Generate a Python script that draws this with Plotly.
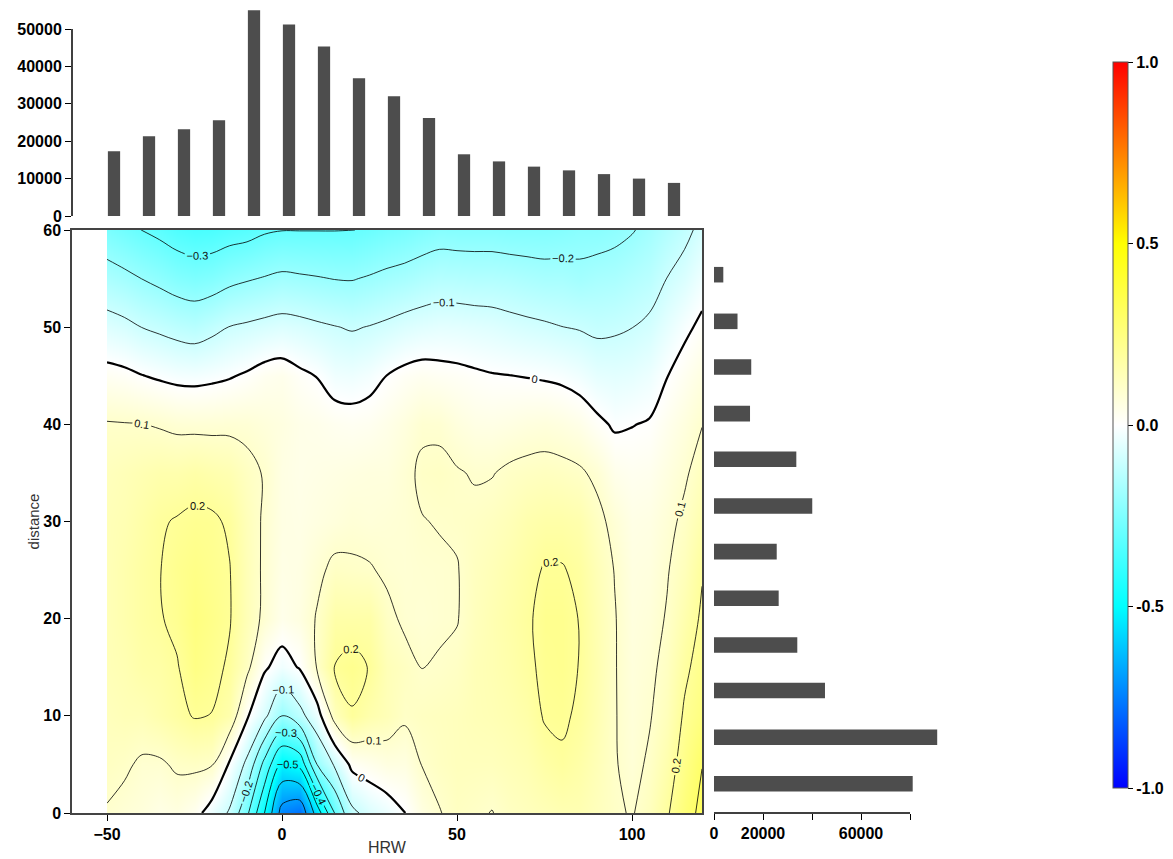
import plotly.graph_objects as go

# ---------------- data ----------------
hrw = [-50, -45, -40, -35, -30, -25, -20, -15, -10, -5, 0, 5, 10, 15, 20, 25, 30, 35,
       40, 45, 50, 55, 60, 65, 70, 75, 80, 85, 90, 95, 100, 105, 110, 115, 120]
distance = [0, 5, 10, 15, 20, 25, 30, 35, 40, 45, 50, 55, 60]

corr = [
    [0.095, 0.08, 0.07, 0.05, 0.06, 0.03, -0.04, -0.11, -0.28, -0.5, -0.74, -0.78, -0.56, -0.3, -0.12, -0.07, -0.04, -0.003, 0.06, 0.097, 0.12, 0.11, 0.098, 0.12, 0.13, 0.14, 0.15, 0.15, 0.13, 0.11, 0.095, 0.13, 0.19, 0.265, 0.32],
    [0.12, 0.11, 0.09, 0.09, 0.11, 0.115, 0.105, -0.01, -0.12, -0.33, -0.52, -0.48, -0.2, -0.09, 0.02, 0.04, 0.06, 0.06, 0.102, 0.12, 0.13, 0.13, 0.13, 0.14, 0.15, 0.175, 0.19, 0.17, 0.14, 0.105, 0.08, 0.11, 0.16, 0.235, 0.298],
    [0.13, 0.14, 0.14, 0.16, 0.18, 0.205, 0.198, 0.16, 0.01, -0.08, -0.2, -0.13, -0.04, 0.13, 0.195, 0.16, 0.14, 0.11, 0.12, 0.125, 0.13, 0.14, 0.145, 0.155, 0.17, 0.205, 0.21, 0.19, 0.15, 0.104, 0.075, 0.095, 0.135, 0.21, 0.25],
    [0.14, 0.15, 0.17, 0.175, 0.195, 0.24, 0.22, 0.19, 0.12, 0.01, -0.03, 0.005, 0.105, 0.205, 0.22, 0.197, 0.14, 0.12, 0.099, 0.105, 0.115, 0.14, 0.15, 0.165, 0.185, 0.215, 0.22, 0.198, 0.155, 0.104, 0.07, 0.085, 0.12, 0.185, 0.23],
    [0.14, 0.16, 0.18, 0.195, 0.215, 0.25, 0.23, 0.205, 0.14, 0.085, 0.04, 0.06, 0.105, 0.17, 0.17, 0.17, 0.115, 0.09, 0.085, 0.092, 0.097, 0.13, 0.15, 0.17, 0.19, 0.22, 0.22, 0.198, 0.15, 0.104, 0.065, 0.075, 0.105, 0.16, 0.21],
    [0.14, 0.16, 0.18, 0.198, 0.22, 0.235, 0.22, 0.203, 0.14, 0.088, 0.05, 0.055, 0.085, 0.115, 0.11, 0.105, 0.09, 0.085, 0.09, 0.092, 0.097, 0.125, 0.14, 0.16, 0.18, 0.205, 0.205, 0.185, 0.14, 0.098, 0.06, 0.065, 0.095, 0.135, 0.195],
    [0.14, 0.15, 0.17, 0.193, 0.205, 0.215, 0.212, 0.19, 0.135, 0.09, 0.055, 0.05, 0.06, 0.07, 0.08, 0.075, 0.08, 0.085, 0.098, 0.103, 0.108, 0.115, 0.125, 0.14, 0.16, 0.17, 0.17, 0.16, 0.12, 0.08, 0.05, 0.055, 0.08, 0.115, 0.16],
    [0.13, 0.14, 0.15, 0.16, 0.16, 0.17, 0.16, 0.15, 0.12, 0.095, 0.055, 0.045, 0.05, 0.055, 0.06, 0.065, 0.065, 0.085, 0.11, 0.115, 0.105, 0.095, 0.097, 0.112, 0.12, 0.125, 0.12, 0.11, 0.085, 0.04, 0.03, 0.035, 0.06, 0.09, 0.13],
    [0.105, 0.103, 0.101, 0.094, 0.084, 0.082, 0.082, 0.084, 0.082, 0.07, 0.06, 0.045, 0.04, 0.03, 0.025, 0.03, 0.045, 0.065, 0.09, 0.088, 0.066, 0.052, 0.05, 0.056, 0.064, 0.068, 0.06, 0.045, 0.015, -0.008, -0.002, 0.005, 0.035, 0.065, 0.098],
    [0.025, 0.017, 0.002, -0.01, -0.02, -0.023, -0.016, -0.006, 0.009, 0.03, 0.038, 0.015, -0.002, -0.03, -0.034, -0.022, 0.001, 0.02, 0.03, 0.024, 0.019, 0.011, 0.004, 0.001, -0.003, -0.008, -0.015, -0.03, -0.05, -0.055, -0.05, -0.035, -0.002, 0.03, 0.06],
    [-0.066, -0.08, -0.101, -0.115, -0.13, -0.14, -0.121, -0.098, -0.088, -0.077, -0.068, -0.075, -0.087, -0.097, -0.106, -0.097, -0.085, -0.07, -0.06, -0.053, -0.055, -0.06, -0.065, -0.075, -0.083, -0.09, -0.099, -0.105, -0.115, -0.11, -0.101, -0.085, -0.05, -0.015, 0.015],
    [-0.162, -0.18, -0.201, -0.22, -0.241, -0.252, -0.243, -0.221, -0.207, -0.195, -0.183, -0.189, -0.195, -0.202, -0.204, -0.193, -0.18, -0.17, -0.155, -0.144, -0.146, -0.15, -0.15, -0.155, -0.163, -0.17, -0.17, -0.18, -0.17, -0.165, -0.15, -0.135, -0.099, -0.07, -0.03],
    [-0.258, -0.28, -0.301, -0.32, -0.343, -0.356, -0.352, -0.338, -0.33, -0.31, -0.302, -0.302, -0.302, -0.302, -0.302, -0.29, -0.275, -0.265, -0.25, -0.237, -0.24, -0.24, -0.24, -0.245, -0.245, -0.245, -0.24, -0.23, -0.23, -0.22, -0.205, -0.18, -0.15, -0.12, -0.08],
]

hrw_bins = [-48, -38, -28, -18, -8, 2, 12, 22, 32, 42, 52, 62, 72, 82, 92, 102, 112]
hrw_counts = [17300, 21300, 23200, 25600, 55000, 51200, 45300, 36800, 32000, 26200,
              16500, 14600, 13200, 12200, 11200, 10000, 8850]

dist_bins = [3.0, 7.8, 12.6, 17.3, 22.1, 26.9, 31.6, 36.4, 41.1, 45.9, 50.6, 55.4]
dist_counts = [81100, 91100, 45300, 34000, 26400, 25600, 40100, 33600, 14700, 15200, 9600, 3800]

cbar_ticks = [-1, -0.5, 0, 0.5, 1]
cbar_text = ["-1.0", "-0.5", "0.0", "0.5", "1.0"]

# ---------------- layout helpers ----------------
# The page body has an 8px default margin, so the figure is drawn 8px in from
# the window corner; positions below are given in window pixels.
OFF = 8
W, H = 1173 - OFF, 859 - OFF
def px(v):
    return (v - OFF) / W
def py(v):
    return 1 - (v - OFF) / H

FONT = "Liberation Sans, Arial, sans-serif"
tickfont = dict(family=FONT, size=16, color="black", weight="bold")
colorscale = [[0, "#0000FF"], [0.25, "#00FFFF"], [0.5, "#FFFFFF"], [0.75, "#FFFF00"], [1, "#FF0000"]]

fig = go.Figure()

# colour field (heatmap-style fill limited to the data extent)
fig.add_trace(go.Contour(
    x=hrw, y=distance, z=corr, zmin=-1, zmax=1, zauto=False,
    colorscale=colorscale, hoverinfo="skip", autocontour=False,
    contours=dict(start=-1, end=1, size=0.1, coloring="heatmap", showlines=False),
    line=dict(width=0),
    colorbar=dict(
        x=px(1113), xanchor="left", y=py(425), yanchor="middle",
        len=726 / H, lenmode="fraction", thickness=15, thicknessmode="pixels",
        tickvals=cbar_ticks, ticktext=cbar_text, ticks="outside", ticklen=5,
        tickcolor="black", tickfont=tickfont, outlinewidth=1, outlinecolor="#555",
        ypad=0, xpad=0,
    ),
    xaxis="x", yaxis="y",
))

label_font = dict(family=FONT, size=11, color="#111")

fig.add_trace(go.Contour(
    x=hrw, y=distance, z=corr, autocontour=False,
    contours=dict(start=-0.7, end=-0.1, size=0.1, coloring="none",
                  showlabels=True, labelfont=label_font, labelformat=".1f"),
    line=dict(color="black", width=0.8), showscale=False, hoverinfo="skip",
    xaxis="x", yaxis="y",
))
fig.add_trace(go.Contour(
    x=hrw, y=distance, z=corr, autocontour=False,
    contours=dict(start=0.1, end=0.3, size=0.1, coloring="none",
                  showlabels=True, labelfont=label_font, labelformat=".1f"),
    line=dict(color="black", width=0.8), showscale=False, hoverinfo="skip",
    xaxis="x", yaxis="y",
))
fig.add_trace(go.Contour(
    x=hrw, y=distance, z=corr, autocontour=False,
    contours=dict(start=0, end=0.0001, size=1, coloring="none",
                  showlabels=True, labelfont=label_font, labelformat=".0f"),
    line=dict(color="black", width=2.2), showscale=False, hoverinfo="skip",
    xaxis="x", yaxis="y",
))

fig.add_trace(go.Bar(
    x=hrw_bins, y=hrw_counts, width=3.5, marker=dict(color="#4D4D4D", line=dict(width=0)),
    xaxis="x2", yaxis="y2", hoverinfo="skip",
))
fig.add_trace(go.Bar(
    x=dist_counts, y=dist_bins, orientation="h", width=1.6,
    marker=dict(color="#4D4D4D", line=dict(width=0)),
    xaxis="x3", yaxis="y3", hoverinfo="skip",
))

main_xdom = [px(72), px(702)]
main_ydom = [py(813), py(230)]

fig.update_layout(
    width=W, height=H, margin=dict(l=0, r=0, t=0, b=0, autoexpand=False),
    paper_bgcolor="white", plot_bgcolor="white", showlegend=False,
    xaxis=dict(domain=main_xdom, range=[-60, 120], tickvals=[-50, 0, 50, 100],
               ticks="outside", ticklen=6, tickcolor="black", showline=True, mirror=True,
               linecolor="#444", linewidth=1.5, showgrid=False, zeroline=False,
               tickfont=tickfont, anchor="y", automargin=False,
               title=dict(text="HRW", font=dict(family=FONT, size=16, color="#333"), standoff=0)),
    yaxis=dict(domain=main_ydom, range=[0, 60], tickvals=[0, 10, 20, 30, 40, 50, 60],
               ticks="outside", ticklen=6, tickcolor="black", showline=True, mirror=True,
               linecolor="#444", linewidth=1.5, showgrid=False, zeroline=False,
               tickfont=tickfont, anchor="x", automargin=False,
               title=dict(text="distance", font=dict(family=FONT, size=15, color="#333"), standoff=0)),
    xaxis2=dict(domain=main_xdom, range=[-60, 120], visible=False, anchor="y2"),
    yaxis2=dict(domain=[py(216), py(9)], range=[0, 50000 * 207 / 187],
                tickvals=[0, 10000, 20000, 30000, 40000, 50000], tickformat="d",
                ticks="outside", ticklen=6, automargin=False,
                tickcolor="black", showline=False, showgrid=False, zeroline=False,
                tickfont=tickfont, anchor="x2"),
    xaxis3=dict(domain=[px(714), px(950)], range=[0, 236 / 2.45 * 1000],
                tickvals=[0, 20000, 40000, 60000, 80000], automargin=False,
                ticktext=["0", "20000", "", "60000", ""], ticks="outside", ticklen=6,
                tickcolor="black", showline=False, showgrid=False, zeroline=False,
                tickfont=tickfont, anchor="y3"),
    yaxis3=dict(domain=main_ydom, range=[0, 60], visible=False, anchor="x3"),
    shapes=[
        dict(type="line", xref="paper", yref="y2", x0=px(72), x1=px(72), y0=0, y1=50000,
             line=dict(color="black", width=1.5)),
        dict(type="line", xref="x3", yref="paper", x0=0, x1=80000, y0=py(813), y1=py(813),
             line=dict(color="black", width=1.5)),
    ],
)

fig.write_html("out.html")
